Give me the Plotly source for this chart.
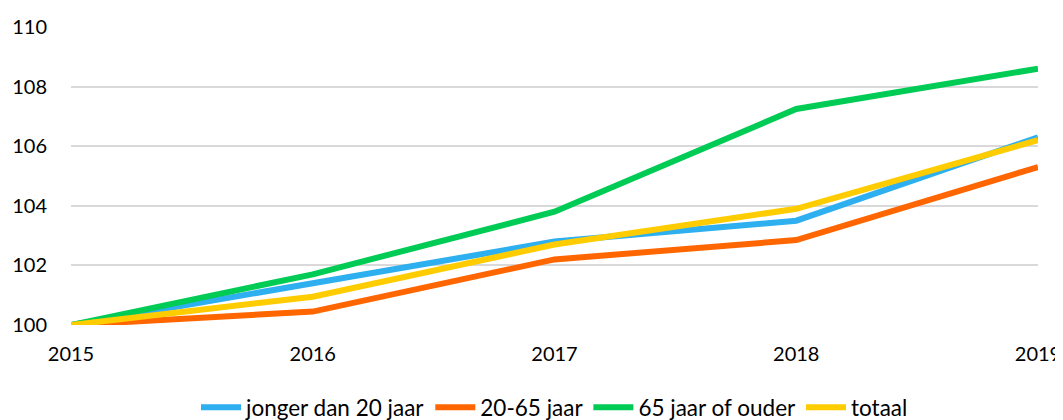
import plotly.graph_objects as go

years = [2015, 2016, 2017, 2018, 2019]
jonger = [100, 101.4, 102.8, 103.5, 106.3]
werkend = [100, 100.45, 102.2, 102.85, 105.3]
ouder = [100, 101.7, 103.8, 107.25, 108.6]
totaal = [100, 100.95, 102.7, 103.9, 106.2]

names = ["jonger dan 20 jaar", "20-65 jaar", "65 jaar of ouder", "totaal"]
series = [jonger, werkend, ouder, totaal]
colors = ["#2EAFEF", "#FF6600", "#00CC55", "#FFCC00"]
y_ticks = [100, 102, 104, 106, 108, 110]

FONT = "Lato, sans-serif"

fig = go.Figure()
for n, s, c in zip(names, series, colors):
    fig.add_trace(go.Scatter(x=years, y=s, name=n, mode="lines",
                             line=dict(color=c, width=6), cliponaxis=False))

# page body has an 8px default margin; compensate so the plot lands in place
fig.update_layout(
    width=1055, height=412,
    margin=dict(l=63, r=25, t=19, b=95, autoexpand=False),
    plot_bgcolor="white", paper_bgcolor="white",
    font=dict(family=FONT, size=20, color="#000000"),
    showlegend=True,
    legend=dict(orientation="h", xref="paper", x=0.5, xanchor="center",
                yref="container", y=0.03, yanchor="middle",
                font=dict(size=22.5), itemwidth=40, tracegroupgap=0),
    xaxis=dict(range=[2015, 2019], tickvals=years, showgrid=False, zeroline=False,
               showline=False, ticks="", ticklabelstandoff=15, automargin=False),
    yaxis=dict(range=[100, 110], tickvals=y_ticks, showgrid=True, gridcolor="#D9D9D9",
               gridwidth=1.5, zeroline=False, showline=False, ticks="",
               ticklabelstandoff=23, automargin=False),
)
fig.write_html("out.html")
